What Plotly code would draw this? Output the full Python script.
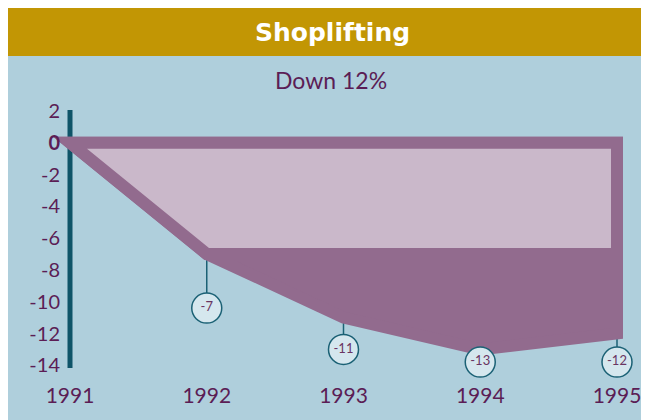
import plotly.graph_objects as go

# ---- data ----
years = [1991, 1992, 1993, 1994, 1995]
values = [0, -7, -11, -13, -12]          # % change vs 1991
label_years = [1992, 1993, 1994, 1995]
label_values = [-7, -11, -13, -12]
label_pos = [-10.4, -13.0, -13.8, -13.8]  # where the value bubbles sit
y_ticks = [2, 0, -2, -4, -6, -8, -10, -12, -14]
x_ticks = [1991, 1992, 1993, 1994, 1995]
title = "Shoplifting"
subtitle = "Down 12%"

# ---- style ----
GOLD = "#c29604"
BG = "#afcfdc"
DARK = "#926b8e"
LIGHT = "#cab8ca"
TEAL = "#0e5468"
PIN = "#1b6175"
BUBBLE = "#d5e7ee"
PURPLE = "#5b1d55"
FONT = "Lato"

W, H = 649, 420
L, R, T, B = 32, 17, 93, 50
PW, PH = W - L - R, H - T - B


def fx(px):
    return (px - L) / PW


def fy(py):
    return (H - B - py) / PH


fig = go.Figure()

# pins (under everything)
for yr, v, lp in zip(label_years, label_values, label_pos):
    fig.add_trace(go.Scatter(x=[yr, yr], y=[v, lp], mode="lines",
                             line=dict(color=PIN, width=1.5),
                             hoverinfo="skip", showlegend=False))

# dark area: between 0 and the data line, with a thick outline
mid = years[len(years) // 2]
dx = [mid, years[-1]] + years[::-1] + [mid]
dy = [0, 0] + values[::-1] + [0]
fig.add_trace(go.Scatter(x=dx, y=dy, mode="lines", fill="toself",
                         fillcolor=DARK,
                         line=dict(color=DARK, width=12, simplify=False),
                         hoverinfo="skip", showlegend=False))

# light inner area: from 0 down to the first year's drop
plateau = values[1]
lx = [mid, years[-1], years[-1], years[1], years[0], mid]
ly = [0, 0, plateau, plateau, 0, 0]
fig.add_trace(go.Scatter(x=lx, y=ly, mode="lines", fill="toself",
                         fillcolor=LIGHT,
                         line=dict(color=DARK, width=12, simplify=False),
                         hoverinfo="skip", showlegend=False))

# value bubbles
fig.add_trace(go.Scatter(x=label_years, y=label_pos, mode="markers+text",
                         marker=dict(size=30, color=BUBBLE,
                                     line=dict(color=PIN, width=1.5)),
                         text=[str(v) for v in label_values],
                         textposition="middle center",
                         textfont=dict(family=FONT, size=13, color="#6a3562"),
                         cliponaxis=False,
                         hoverinfo="skip", showlegend=False))

shapes = [
    dict(type="rect", xref="paper", yref="paper", x0=fx(0), x1=fx(W),
         y0=fy(0), y1=fy(48), fillcolor=GOLD, line_width=0, layer="below"),
    dict(type="line", xref="x", yref="y", x0=years[0], x1=years[0],
         y0=2.05, y1=-14.17, line=dict(color=TEAL, width=5), layer="below"),
]

annotations = [
    dict(text="<b>" + title + "</b>", xref="paper", yref="paper",
         x=fx(W / 2), y=fy(24), showarrow=False,
         xanchor="center", yanchor="middle",
         font=dict(family="DejaVu Sans", size=25, color="white")),
    dict(text=subtitle, xref="paper", yref="paper",
         x=fx(W / 2 - 2), y=fy(72), showarrow=False,
         xanchor="center", yanchor="middle",
         font=dict(family=FONT, size=23, color=PURPLE)),
]

px_per_year = 136.75
px_per_unit = 15.9
zero_py = 134.7
first_px = 62

fig.update_layout(
    width=W, height=H,
    margin=dict(l=L, r=R, t=T, b=B),
    paper_bgcolor=BG,
    plot_bgcolor="rgba(0,0,0,0)",
    shapes=shapes,
    annotations=annotations,
    xaxis=dict(range=[years[0] - (first_px - L) / px_per_year,
                      years[0] + (W - R - first_px) / px_per_year],
               tickvals=x_ticks, ticktext=[str(t) for t in x_ticks],
               showgrid=False, zeroline=False, showline=False, ticks="",
               ticklabelstandoff=3,
               tickfont=dict(family=FONT, size=21, color=PURPLE),
               fixedrange=True),
    yaxis=dict(range=[-(H - B - zero_py) / px_per_unit,
                      (zero_py - T) / px_per_unit],
               tickvals=y_ticks,
               ticktext=["<b>0</b>" if t == 0 else str(t) for t in y_ticks],
               showgrid=False, zeroline=False, showline=False, ticks="",
               anchor="free", position=fx(52),
               tickfont=dict(family=FONT, size=20, color=PURPLE),
               fixedrange=True),
)

fig.write_html(
    "out.html",
    post_script=(
        "document.querySelectorAll('.js-line').forEach(function(p){"
        "p.style.strokeLinejoin='miter';p.style.strokeMiterlimit='10';});"
    ),
)
